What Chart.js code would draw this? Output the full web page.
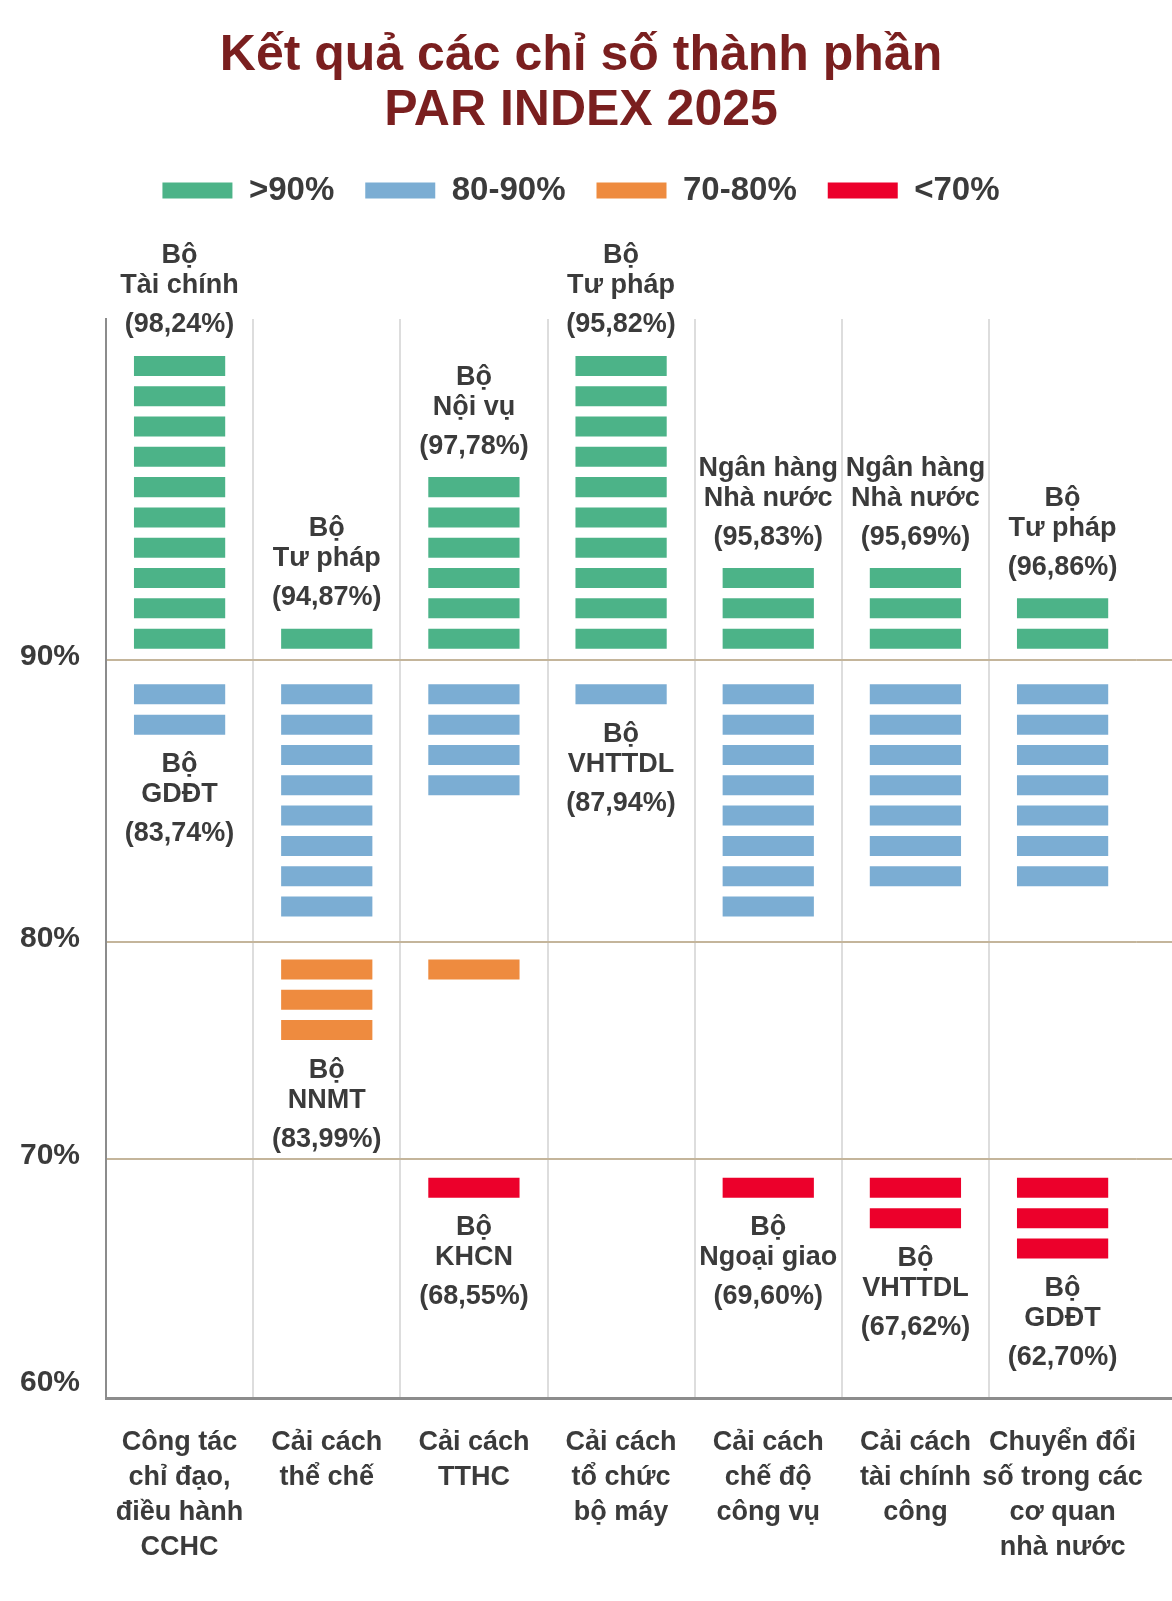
<!DOCTYPE html>
<html lang="vi">
<head>
<meta charset="utf-8">
<title>Kết quả các chỉ số thành phần PAR INDEX 2025</title>
<script src="https://cdn.jsdelivr.net/npm/chart.js@4.4.1/dist/chart.umd.min.js"></script>
<style>
  html, body { margin: 0; padding: 0; background: #fff; }
  #chart { display: block; }
</style>
</head>
<body>
<canvas id="chart" width="1172" height="1601"></canvas>
<script>
// x axis categories, one entry per label line
const categories = [
  ["Công tác", "chỉ đạo,", "điều hành", "CCHC"],
  ["Cải cách", "thể chế"],
  ["Cải cách", "TTHC"],
  ["Cải cách", "tổ chức", "bộ máy"],
  ["Cải cách", "chế độ", "công vụ"],
  ["Cải cách", "tài chính", "công"],
  ["Chuyển đổi", "số trong các", "cơ quan", "nhà nước"]
];

// how many ministries fall in each score band, per category
const above90 = [10, 1, 6, 10, 3, 3, 2];
const from80to90 = [2, 8, 4, 1, 8, 7, 7];
const from70to80 = [0, 3, 1, 0, 0, 0, 0];
const below70 = [0, 0, 1, 0, 1, 2, 3];

const bandNames = [">90%", "80-90%", "70-80%", "<70%"];

// highest and lowest ministry for each category
const bestName = [["Bộ", "Tài chính"], ["Bộ", "Tư pháp"], ["Bộ", "Nội vụ"], ["Bộ", "Tư pháp"],
  ["Ngân hàng", "Nhà nước"], ["Ngân hàng", "Nhà nước"], ["Bộ", "Tư pháp"]];
const bestScore = [98.24, 94.87, 97.78, 95.82, 95.83, 95.69, 96.86];
const worstName = [["Bộ", "GDĐT"], ["Bộ", "NNMT"], ["Bộ", "KHCN"], ["Bộ", "VHTTDL"],
  ["Bộ", "Ngoại giao"], ["Bộ", "VHTTDL"], ["Bộ", "GDĐT"]];
const worstScore = [83.74, 83.99, 68.55, 87.94, 69.60, 67.62, 62.70];

const yTickLabels = ["60%", "70%", "80%", "90%"];

// layout: the y axis counts in "slots" (one ministry bar + gap)
const Y_MAX = 35.6;
const LINE_AT = [0.4, 7.88, 15.04, 24.36]; // 60% label, 70%, 80%, 90% lines
const BAR_H = 0.66;
const LEGEND_GAP = 102;
const FONT = '"Liberation Sans", Arial, Helvetica, sans-serif';
const TEXT = '#3b3b3b';

const bands = [
  { counts: above90, base: LINE_AT[3], first: 0.363, dir: 1, color: '#4cb388' },
  { counts: from80to90, base: LINE_AT[3], first: -0.814, dir: -1, color: '#7badd3' },
  { counts: from70to80, base: LINE_AT[2], first: -0.57, dir: -1, color: '#ee8b3f' },
  { counts: below70, base: LINE_AT[1], first: -0.617, dir: -1, color: '#ec002b' }
];

const catKeys = categories.map(c => c.join(' '));

function blocksFor(band, i) {
  const out = [];
  for (let k = 0; k < band.counts[i]; k++) {
    const edge = band.base + band.first + band.dir * k;
    out.push(band.dir > 0 ? [edge, edge + BAR_H] : [edge - BAR_H, edge]);
  }
  return out;
}

const pct = v => '(' + v.toFixed(2).replace('.', ',') + '%)';

// push the plot down below the legend
const legendGap = {
  id: 'legendGap',
  beforeInit(chart) {
    const fit = chart.legend.fit;
    chart.legend.fit = function () {
      fit.call(this);
      this.height += LEGEND_GAP;
    };
  }
};

// horizontal lines run on to the right edge of the picture
const edgeLines = {
  id: 'edgeLines',
  beforeDatasetsDraw(chart) {
    const { ctx, chartArea: a, scales: { y } } = chart;
    ctx.save();
    ctx.strokeStyle = '#c4b59b';
    ctx.lineWidth = 2;
    LINE_AT.slice(1).forEach(v => {
      const py = Math.round(y.getPixelForValue(v));
      ctx.beginPath();
      ctx.moveTo(a.right, py);
      ctx.lineTo(chart.width, py);
      ctx.stroke();
    });
    ctx.strokeStyle = '#8c8c8c';
    ctx.lineWidth = 3;
    ctx.beginPath();
    ctx.moveTo(a.right, Math.round(a.bottom) + 0.5);
    ctx.lineTo(chart.width, Math.round(a.bottom) + 0.5);
    ctx.stroke();
    ctx.restore();
  }
};

// best ministry above each column, worst below
const annotate = {
  id: 'annotate',
  afterDatasetsDraw(chart) {
    const { ctx, scales: { x, y } } = chart;
    ctx.save();
    ctx.font = 'bold 27px ' + FONT;
    ctx.fillStyle = TEXT;
    ctx.textAlign = 'center';
    ctx.textBaseline = 'middle';
    categories.forEach((c, i) => {
      const all = bands.flatMap(b => blocksFor(b, i));
      const cx = x.getPixelForValue(i);
      const top = y.getPixelForValue(Math.max(...all.map(r => r[1])));
      const bottom = y.getPixelForValue(Math.min(...all.map(r => r[0])));
      const best = [...bestName[i], pct(bestScore[i])];
      [-100, -70, -31].forEach((dy, j) => ctx.fillText(best[j], cx, top + dy));
      const worst = [...worstName[i], pct(worstScore[i])];
      [30, 60, 99].forEach((dy, j) => ctx.fillText(worst[j], cx, bottom + dy));
    });
    ctx.restore();
  }
};

Chart.defaults.font.family = FONT;
Chart.defaults.color = TEXT;

new Chart(document.getElementById('chart'), {
  type: 'bar',
  data: {
    labels: catKeys,
    datasets: bands.map((b, n) => ({
      label: bandNames[n],
      data: categories.flatMap((c, i) => blocksFor(b, i).map(r => ({ x: catKeys[i], y: r }))),
      backgroundColor: b.color,
      borderWidth: 0,
      grouped: false,
      categoryPercentage: 1,
      barPercentage: 0.62
    }))
  },
  options: {
    responsive: false,
    animation: false,
    devicePixelRatio: 1,
    events: [],
    layout: { padding: { top: 0, left: 20, right: 30, bottom: 38 } },
    plugins: {
      title: {
        display: true,
        text: ['Kết quả các chỉ số thành phần', 'PAR INDEX 2025'],
        color: '#7a1f1f',
        font: { size: 50, weight: 'bold', lineHeight: 1.1 },
        padding: { top: 29, bottom: 4 }
      },
      legend: {
        display: true,
        labels: {
          boxWidth: 70,
          boxHeight: 16,
          padding: 31,
          color: TEXT,
          font: { size: 33, weight: 'bold' }
        }
      },
      tooltip: { enabled: false }
    },
    scales: {
      x: {
        afterFit: s => { s.height = 165; },
        grid: {
          color: c => (c.index > 0 && c.index < categories.length) ? '#dddddd' : 'rgba(0,0,0,0)',
          lineWidth: 2,
          drawTicks: false
        },
        border: { color: '#8c8c8c', width: 3 },
        ticks: {
          autoSkip: false,
          maxRotation: 0,
          padding: 27,
          color: TEXT,
          font: { size: 27, weight: 'bold', lineHeight: 1.3 },
          callback: (v, i) => categories[i]
        }
      },
      y: {
        min: 0,
        max: Y_MAX,
        afterBuildTicks: s => { s.ticks = LINE_AT.map(v => ({ value: v })); },
        afterFit: s => { s.width = 86; },
        grid: {
          color: c => c.index === 0 ? 'rgba(0,0,0,0)' : '#c4b59b',
          lineWidth: 2,
          drawTicks: false
        },
        border: { color: '#8c8c8c', width: 2 },
        ticks: {
          padding: 26,
          labelOffset: -3,
          color: TEXT,
          font: { size: 30, weight: 'bold' },
          callback: (v, i) => yTickLabels[i]
        }
      }
    }
  },
  plugins: [legendGap, edgeLines, annotate]
});
</script>
</body>
</html>
